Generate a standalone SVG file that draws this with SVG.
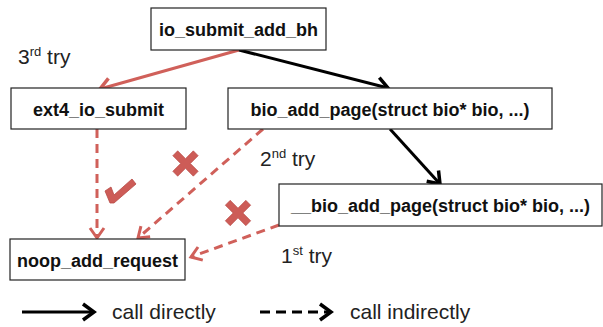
<svg xmlns="http://www.w3.org/2000/svg" width="603" height="327" viewBox="0 0 603 327">
<defs>
<style>
.box{fill:#fff;stroke:#222;stroke-width:1.2}
.lbl{font-family:"Liberation Sans",Arial,sans-serif;font-weight:bold;font-size:18px;fill:#111;text-anchor:middle}
.txt{font-family:"Liberation Sans",Arial,sans-serif;font-size:21px;fill:#222}
.sup{font-size:13px}
.blk{stroke:#000;stroke-width:3;fill:none}
.red{stroke:#d0605a;stroke-width:3;fill:none}
.reddash{stroke:#d0605a;stroke-width:3;fill:none;stroke-dasharray:9 6}
.blkdash{stroke:#000;stroke-width:3;fill:none;stroke-dasharray:10 6}
.mark{fill:#cd5c57;stroke:#b84a45;stroke-width:0.8}
</style>
<marker id="ab" markerUnits="userSpaceOnUse" markerWidth="26" markerHeight="26" viewBox="-13 -13 26 26" refX="0" refY="0" orient="auto">
<path d="M-11,-8 L0,0 L-11,8" fill="none" stroke="#000" stroke-width="3.5"/>
</marker>
<marker id="ar" markerUnits="userSpaceOnUse" markerWidth="26" markerHeight="26" viewBox="-13 -13 26 26" refX="0" refY="0" orient="auto">
<path d="M-11,-8 L0,0 L-11,8" fill="none" stroke="#d0605a" stroke-width="3.5"/>
</marker>
<marker id="ard" markerUnits="userSpaceOnUse" markerWidth="26" markerHeight="26" viewBox="-13 -13 26 26" refX="0" refY="0" orient="auto">
<path d="M-10,-7 L0,0 L-10,7" fill="none" stroke="#d0605a" stroke-width="3"/>
</marker>
<path id="xmark" d="M-9.2,-14.9 L0,-5.7 L9.2,-14.9 L14.9,-9.2 L5.7,0 L14.9,9.2 L9.2,14.9 L0,5.7 L-9.2,14.9 L-14.9,9.2 L-5.7,0 L-14.9,-9.2 Z" transform="scale(0.85)"/>
</defs>
<g id="connectors">
<line class="red" x1="239" y1="50" x2="100" y2="89" marker-end="url(#ar)"/>
<line class="blk" x1="239" y1="50" x2="388" y2="88" marker-end="url(#ab)"/>
<line class="blk" x1="390" y1="129" x2="440" y2="184" marker-end="url(#ab)"/>
<line class="reddash" x1="97" y1="129" x2="97" y2="238" marker-end="url(#ard)"/>
<line class="reddash" x1="263" y1="129" x2="138" y2="238" marker-end="url(#ard)"/>
<line class="reddash" x1="279" y1="225" x2="191" y2="257" marker-end="url(#ard)"/>
</g>
<g id="io_submit_add_bh"><rect class="box" x="151" y="8" width="175" height="42"/><text class="lbl" x="238.5" y="36">io_submit_add_bh</text></g>
<g id="ext4_io_submit"><rect class="box" x="11" y="88" width="175" height="41"/><text class="lbl" x="98.5" y="116">ext4_io_submit</text></g>
<g id="bio_add_page"><rect class="box" x="228" y="88" width="324" height="41"/><text class="lbl" x="390" y="116">bio_add_page(struct bio* bio, ...)</text></g>
<g id="__bio_add_page"><rect class="box" x="279" y="184" width="323" height="42"/><text class="lbl" x="440.5" y="212">__bio_add_page(struct bio* bio, ...)</text></g>
<g id="noop_add_request"><rect class="box" x="10" y="239" width="175" height="41"/><text class="lbl" x="97.5" y="267">noop_add_request</text></g>
<g id="marks">
<use href="#xmark" class="mark" transform="translate(185.5,163.5)"/>
<use href="#xmark" class="mark" transform="translate(238,213)"/>
<path class="mark" d="M105,191 L111,187 L114,195 L132,179 L136,184 L114,203 L110,203 Z"/>
</g>
<g id="labels">
<text class="txt" x="18" y="64">3<tspan class="sup" dy="-8">rd</tspan><tspan dy="8"> try</tspan></text>
<text class="txt" x="260" y="166">2<tspan class="sup" dy="-8">nd</tspan><tspan dy="8"> try</tspan></text>
<text class="txt" x="281" y="263">1<tspan class="sup" dy="-8">st</tspan><tspan dy="8"> try</tspan></text>
</g>
<g id="legend">
<line class="blk" x1="22" y1="312" x2="94" y2="312" marker-end="url(#ab)"/>
<text class="txt" x="112" y="319">call directly</text>
<line class="blkdash" x1="260" y1="312" x2="331" y2="312" marker-end="url(#ab)"/>
<text class="txt" x="350" y="319">call indirectly</text>
</g>
</svg>
